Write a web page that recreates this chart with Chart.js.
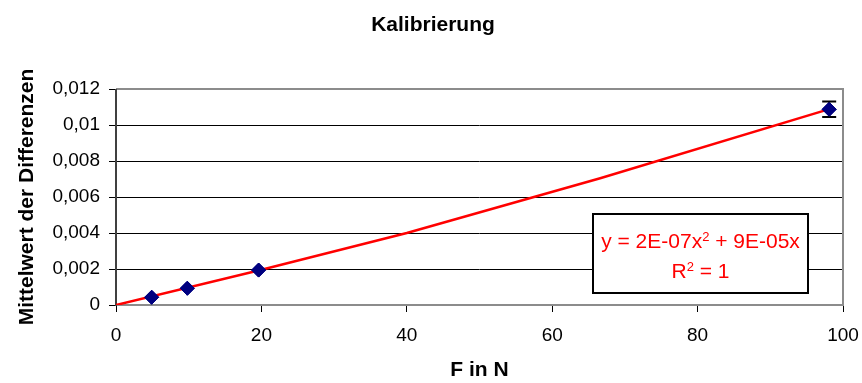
<!DOCTYPE html>
<html><head><meta charset="utf-8">
<script src="https://cdn.jsdelivr.net/npm/chart.js@4"></script>
<style>html,body{margin:0;padding:0;background:#fff}#wrap{width:862px;height:383px}</style>
</head><body><div id="wrap"><canvas id="c"></canvas></div>
<script>
const forces = [4.905, 9.81, 19.62, 98.1];
const meanDiff = [0.00043, 0.00093, 0.00194, 0.01087];
const errPlusMinus = [0, 0, 0, 0.00043];
const trendX = [0, 19.6, 40, 66.6, 98.1];
const trendY = [0, 0.00192, 0.00400, 0.00704, 0.01088];
const yTicks = [0, 0.002, 0.004, 0.006, 0.008, 0.01, 0.012];
const xTicks = [0, 20, 40, 60, 80, 100];
const titleText = 'Kalibrierung';
const eqLine1 = ['y = 2E-07x', '2', ' + 9E-05x'];
const eqLine2 = ['R', '2', ' = 1'];

const FONT = '"Liberation Sans", Arial, sans-serif';

const deco = {
  id: 'deco',
  beforeDatasetsDraw(chart) {
    const {ctx, chartArea: a} = chart;
    ctx.save();
    ctx.strokeStyle = '#8c8c8c'; ctx.lineWidth = 2;
    ctx.beginPath();
    ctx.moveTo(a.left, a.top); ctx.lineTo(a.right, a.top); ctx.lineTo(a.right, a.bottom); ctx.lineTo(a.left, a.bottom);
    ctx.stroke();
    ctx.strokeStyle = '#404040'; ctx.lineWidth = 2;
    ctx.beginPath(); ctx.moveTo(a.left, a.top); ctx.lineTo(a.left, a.bottom + 1); ctx.stroke();
    ctx.restore();
  },
  afterDatasetsDraw(chart) {
    const {ctx, scales: {x, y}} = chart;
    ctx.save();
    ctx.strokeStyle = '#000'; ctx.lineWidth = 2;
    forces.forEach((f, i) => {
      const e = errPlusMinus[i];
      if (!e) return;
      const px = x.getPixelForValue(f);
      const t = y.getPixelForValue(meanDiff[i] + e), b = y.getPixelForValue(meanDiff[i] - e);
      ctx.beginPath();
      ctx.moveTo(px, t); ctx.lineTo(px, b);
      ctx.moveTo(px - 7, t); ctx.lineTo(px + 7, t);
      ctx.moveTo(px - 7, b); ctx.lineTo(px + 7, b);
      ctx.stroke();
    });
    const meta = chart.getDatasetMeta(1);
    meta.data.forEach(el => el.draw(ctx));
    ctx.restore();
  },
  afterDraw(chart) {
    const {ctx} = chart;
    ctx.save();
    ctx.fillStyle = '#000';
    ctx.font = 'bold 21px ' + FONT;
    ctx.textAlign = 'center'; ctx.textBaseline = 'alphabetic';
    ctx.fillText(titleText, 433, 31);
    const bx = 593, by = 214, bw = 215, bh = 79;
    ctx.fillStyle = '#fff'; ctx.fillRect(bx, by, bw, bh);
    ctx.strokeStyle = '#000'; ctx.lineWidth = 2; ctx.strokeRect(bx, by, bw, bh);
    ctx.fillStyle = '#ff0000';
    const drawSup = (parts, cy) => {
      const big = '21px ' + FONT, small = '13px ' + FONT;
      ctx.font = big; const w0 = ctx.measureText(parts[0]).width, w2 = ctx.measureText(parts[2]).width;
      ctx.font = small; const w1 = ctx.measureText(parts[1]).width;
      let sx = bx + bw / 2 - (w0 + w1 + w2) / 2;
      ctx.textAlign = 'left'; ctx.textBaseline = 'alphabetic';
      ctx.font = big; ctx.fillText(parts[0], sx, cy); sx += w0;
      ctx.font = small; ctx.fillText(parts[1], sx, cy - 7); sx += w1;
      ctx.font = big; ctx.fillText(parts[2], sx, cy);
    };
    drawSup(eqLine1, by + 34);
    drawSup(eqLine2, by + 64);
    ctx.restore();
  }
};

new Chart(document.getElementById('c'), {
  type: 'scatter',
  data: {
    datasets: [
      {
        type: 'line',
        data: trendX.map((v, i) => ({x: v, y: trendY[i]})),
        borderColor: '#ff0000', borderWidth: 2.5, pointRadius: 0, fill: false, tension: 0, order: 2
      },
      {
        data: forces.map((v, i) => ({x: v, y: meanDiff[i]})),
        backgroundColor: '#000080', borderColor: '#000080', pointStyle: 'rectRot',
        pointRadius: 7, borderWidth: 1, order: 1
      }
    ]
  },
  options: {
    responsive: true, maintainAspectRatio: false, animation: false,
    layout: {padding: {top: 89, right: 19, left: 0, bottom: 0}},
    plugins: {legend: {display: false}, tooltip: {enabled: false}, title: {display: false}},
    scales: {
      x: {
        type: 'linear', min: 0, max: 100,
        afterBuildTicks: s => { s.ticks = xTicks.map(v => ({value: v})); },
        afterFit: s => { s.height = 78; s.paddingLeft = 0; s.paddingRight = 0; },
        grid: {display: true, drawOnChartArea: false, drawTicks: true, tickLength: 7, color: '#000', tickColor: '#000', lineWidth: 1},
        border: {display: false},
        ticks: {color: '#000', font: {size: 19, family: FONT}, padding: 12, maxRotation: 0},
        title: {display: true, text: 'F in N', color: '#000', font: {size: 21, weight: 'bold', family: FONT}, padding: {top: 0, bottom: 0}}
      },
      y: {
        type: 'linear', min: 0, max: 0.012,
        afterBuildTicks: s => { s.ticks = yTicks.map(v => ({value: v})); },
        afterFit: s => { s.width = 116; s.paddingTop = 0; s.paddingBottom = 0; },
        grid: {color: '#000', lineWidth: 1, drawTicks: true, tickLength: 7, tickColor: '#000'},
        border: {display: false},
        ticks: {color: '#000', font: {size: 19, family: FONT}, padding: 9,
          callback: v => String(parseFloat(Number(v).toFixed(4))).replace('.', ',')},
        title: {display: true, text: 'Mittelwert der Differenzen', color: '#000', font: {size: 21, weight: 'bold', family: FONT}, padding: {top: 15, bottom: 0}}
      }
    }
  },
  plugins: [deco]
});
</script></body></html>
